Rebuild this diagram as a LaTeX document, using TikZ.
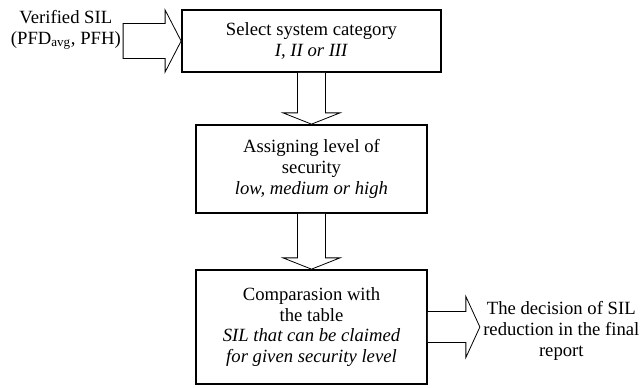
\documentclass[tikz,border=0pt]{standalone}
\usepackage{fontspec}
\setmainfont{Liberation Serif}[ItalicFont={Liberation Serif Italic}, BoldFont={Liberation Serif Bold}]
\usetikzlibrary{calc}
\begin{document}
\begin{tikzpicture}[x=0.75pt,y=-0.75pt,
  txt/.style={align=center, inner sep=0pt, font=\fontsize{14}{15.5}\selectfont},
  box/.style={txt, draw, line width=1.3pt},
  blockarrow/.style={draw, line width=0.6pt, fill=white, line join=miter}]
\useasboundingbox (0,0) rectangle (641,387);

\node[box, minimum width=194.25pt, minimum height=46.5pt] (b1) at (311.5,41)
  {Select system category\\ \textit{I, II or III}};
\node[box, minimum width=173.25pt, minimum height=66pt] (b2) at (311.5,169)
  {Assigning level of\\ security\\ \textit{low, medium or high}};
\node[box, minimum width=173.25pt, minimum height=85.5pt] (b3) at (311.5,327)
  {Comparasion with\\ the table\\ \textit{SIL that can be claimed}\\ \textit{for given security level}};

\node[txt, anchor=east] (vs) at (121,30) {Verified SIL\\ (PFD\textsubscript{avg}, PFH)};
\node[txt, anchor=west] (dec) at (483,331) {The decision of SIL\\ reduction in the final\\ report};

% left block arrow
\draw[blockarrow] ($(b1.west)+(-58,-17.5)$) -- ($(b1.west)+(-16,-17.5)$) -- ($(b1.west)+(-16,-31)$)
  -- (b1.west) -- ($(b1.west)+(-16,31)$) -- ($(b1.west)+(-16,17.5)$) -- ($(b1.west)+(-58,17.5)$) -- cycle;

% down arrow 1
\draw[blockarrow] ($(b1.south)+(-14,0)$) -- ($(b1.south)+(-14,40)$) -- ($(b1.south)+(-28.5,40)$)
  -- (b2.north) -- ($(b1.south)+(28.5,40)$) -- ($(b1.south)+(14,40)$) -- ($(b1.south)+(14,0)$);

% down arrow 2
\draw[blockarrow] ($(b2.south)+(-14,0)$) -- ($(b2.south)+(-14,44)$) -- ($(b2.south)+(-28.5,44)$)
  -- (b3.north) -- ($(b2.south)+(28.5,44)$) -- ($(b2.south)+(14,44)$) -- ($(b2.south)+(14,0)$);

% right block arrow
\coordinate (tip) at ($(b3.east)+(52,0)$);
\draw[blockarrow] ($(b3.east)+(0,-15.5)$) -- ($(b3.east)+(38,-15.5)$) -- ($(b3.east)+(38,-30.5)$)
  -- (tip) -- ($(b3.east)+(38,30.5)$) -- ($(b3.east)+(38,15.5)$) -- ($(b3.east)+(0,15.5)$);
\end{tikzpicture}
\end{document}
